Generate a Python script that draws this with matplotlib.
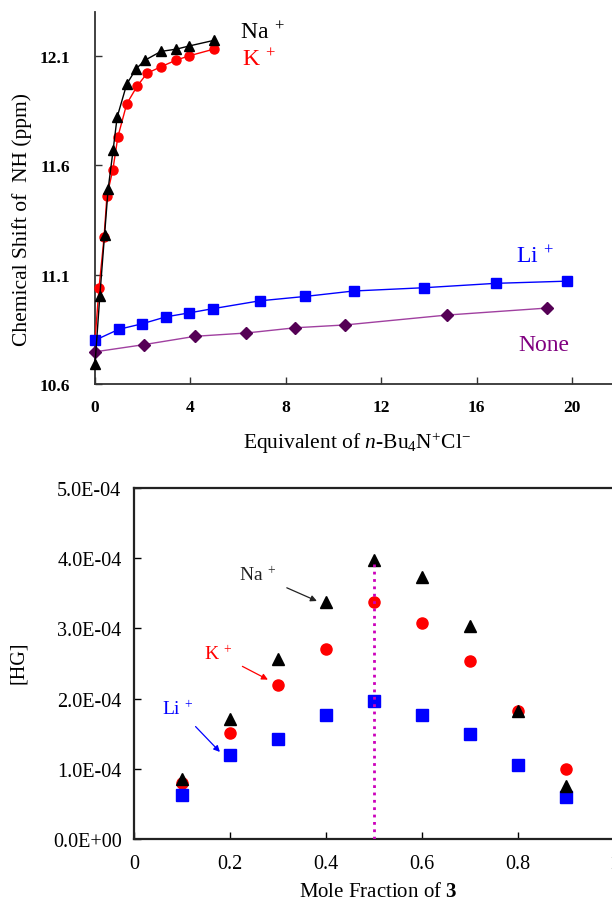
import matplotlib.pyplot as plt

# font setup (Times-like serif)
plt.rcParams['font.family'] = ['Liberation Serif', 'DejaVu Serif']
plt.rcParams['mathtext.fontset'] = 'custom'
plt.rcParams['mathtext.rm'] = 'Liberation Serif'
plt.rcParams['mathtext.it'] = 'Liberation Serif:italic'
plt.rcParams['mathtext.bf'] = 'Liberation Serif:bold'

# top panel: titration data
na_eq = [0, 0.2, 0.4, 0.55, 0.76, 0.93, 1.33, 1.72, 2.1, 2.77, 3.4, 3.96, 4.97]
na_shift = [10.69, 11.0, 11.28, 11.49, 11.67, 11.82, 11.97, 12.04, 12.08, 12.12, 12.13, 12.145, 12.17]
k_eq = [0, 0.17, 0.38, 0.5, 0.75, 0.96, 1.33, 1.76, 2.18, 2.77, 3.4, 3.96, 4.97]
k_shift = [10.80, 11.04, 11.27, 11.46, 11.58, 11.73, 11.88, 11.96, 12.02, 12.05, 12.08, 12.10, 12.13]
li_eq = [0, 1.0, 1.97, 2.98, 3.95, 4.93, 6.9, 8.8, 10.84, 13.8, 16.8, 19.8]
li_shift = [10.80, 10.85, 10.875, 10.907, 10.925, 10.944, 10.98, 11.0, 11.025, 11.04, 11.06, 11.07]
none_eq = [0, 2.06, 4.2, 6.34, 8.4, 10.5, 14.75, 18.95]
none_shift = [10.747, 10.78, 10.818, 10.833, 10.857, 10.87, 10.915, 10.947]
top_xticks = [0, 4, 8, 12, 16, 20]
top_yticks = [10.6, 11.1, 11.6, 12.1]

# bottom panel: Job plot data
mole_frac = [0.1, 0.2, 0.3, 0.4, 0.5, 0.6, 0.7, 0.8, 0.9]
na_hg = [0.86e-4, 1.71e-4, 2.56e-4, 3.37e-4, 3.97e-4, 3.73e-4, 3.03e-4, 1.83e-4, 0.76e-4]
k_hg = [0.80e-4, 1.51e-4, 2.20e-4, 2.71e-4, 3.37e-4, 3.07e-4, 2.53e-4, 1.83e-4, 1.00e-4]
li_hg = [0.63e-4, 1.19e-4, 1.43e-4, 1.77e-4, 1.97e-4, 1.77e-4, 1.49e-4, 1.06e-4, 0.60e-4]
bot_xticks = [0, 0.2, 0.4, 0.6, 0.8, 1.0]
bot_xlabels = ['0', '0.2', '0.4', '0.6', '0.8', '1']
bot_yticks = [0, 1e-4, 2e-4, 3e-4, 4e-4, 5e-4]
bot_ylabels = ['0.0E+00', '1.0E-04', '2.0E-04', '3.0E-04', '4.0E-04', '5.0E-04']

W, H = 612, 903
fig = plt.figure(figsize=(W / 100, H / 100), dpi=100)

# ---------- top panel ----------
ax1 = fig.add_axes([95 / W, 1 - 385 / H, (612 - 95) / W, (385 - 13) / H])
ax1.plot(k_eq, k_shift, '-', color='red', lw=1, marker='o', ms=6.5, clip_on=False, zorder=3)
ax1.plot(na_eq, na_shift, '-', color='black', lw=1, marker='^', ms=7, clip_on=False, zorder=4)
ax1.plot(li_eq, li_shift, '-', color='blue', lw=1, marker='s', ms=7, clip_on=False, zorder=3)
ax1.plot(none_eq, none_shift, '-', color='#a040a0', lw=1, marker='D', ms=6.5,
         mfc='#550055', mec='#550055', clip_on=False, zorder=3)
ax1.set_xlim(0, 517 / 23.85)
ax1.set_ylim(10.6, 12.3)
ax1.spines['top'].set_visible(False)
ax1.spines['right'].set_visible(False)
for s in ('left', 'bottom'):
    ax1.spines[s].set_linewidth(1.3)
    ax1.spines[s].set_color('#333333')
ax1.set_xticks(top_xticks)
ax1.set_yticks(top_yticks)
ax1.set_yticklabels(['%.1f' % v for v in top_yticks])
ax1.tick_params(direction='in', length=5, width=1, color='#333333')
ax1.tick_params(axis='y', pad=18)
ax1.tick_params(axis='x', pad=11)
for lab in ax1.get_xticklabels() + ax1.get_yticklabels():
    lab.set_fontweight('bold')
    lab.set_fontsize(12.5)

fig.text(240 / W, 1 - 33 / H, r'Na$^{\ +}$', fontsize=17, color='black', va='center')
fig.text(242 / W, 1 - 60 / H, r'K$^{\ +}$', fontsize=17, color='red', va='center')
fig.text(516 / W, 1 - 257 / H, r'Li$^{\ +}$', fontsize=17, color='blue', va='center')
fig.text(518 / W, 1 - 346 / H, 'None', fontsize=17, color='#800080', va='center')
fig.text(22 / W, 1 - 220 / H, 'Chemical Shift of  NH (ppm)', fontsize=15.5,
         rotation=90, ha='center', va='center')
fig.text(357 / W, 1 - 443 / H, r'Equivalent of $\mathit{n}$-Bu$_4$N$^{+}$Cl$^{-}$',
         fontsize=15.5, ha='center', va='center')

# ---------- bottom panel ----------
ax2 = fig.add_axes([134 / W, 1 - 840 / H, 480 / W, (840 - 489) / H])
ax2.plot(mole_frac, k_hg, 'o', color='red', ms=8, zorder=3)
ax2.plot(mole_frac, na_hg, '^', color='black', ms=9, zorder=4)
ax2.plot(mole_frac, li_hg, 's', color='blue', ms=8, zorder=3)
ax2.plot([0.5, 0.5], [0, na_hg[4] - 0.05e-4], ':', color='#cc00bb', lw=2, zorder=5)
ax2.set_xlim(0, 1)
ax2.set_ylim(0, 5e-4)
for s in ax2.spines.values():
    s.set_linewidth(1.6)
    s.set_color('#222222')
ax2.set_xticks(bot_xticks)
ax2.set_xticklabels(bot_xlabels)
ax2.set_yticks(bot_yticks)
ax2.set_yticklabels(bot_ylabels)
ax2.tick_params(direction='in', length=5, width=1, labelsize=14.5)
ax2.tick_params(axis='y', pad=9)
ax2.tick_params(axis='x', pad=11)

ax2.annotate(r'Na$^{\ +}$', xy=(0.381, 3.39e-4), xytext=(0.258, 3.76e-4), fontsize=14,
             color='#222222', ha='center', va='center',
             arrowprops=dict(arrowstyle='-|>', color='#222222', lw=0.9,
                             shrinkA=6, shrinkB=0, mutation_scale=9))
ax2.annotate(r'K$^{\ +}$', xy=(0.279, 2.27e-4), xytext=(0.175, 2.64e-4), fontsize=14,
             color='red', ha='center', va='center',
             arrowprops=dict(arrowstyle='-|>', color='red', lw=0.9,
                             shrinkA=6, shrinkB=0, mutation_scale=9))
ax2.annotate(r'Li$^{\ +}$', xy=(0.179, 1.24e-4), xytext=(0.092, 1.86e-4), fontsize=14,
             color='blue', ha='center', va='center',
             arrowprops=dict(arrowstyle='-|>', color='blue', lw=0.9,
                             shrinkA=6, shrinkB=0, mutation_scale=9))

fig.text(18 / W, 1 - 663 / H, '[HG]', fontsize=14.5, rotation=90, ha='center', va='center')
fig.text(378 / W, 1 - 893 / H, r'Mole Fraction of $\mathbf{3}$', fontsize=15,
         ha='center', va='center')

fig.savefig('out.png', dpi=100)
